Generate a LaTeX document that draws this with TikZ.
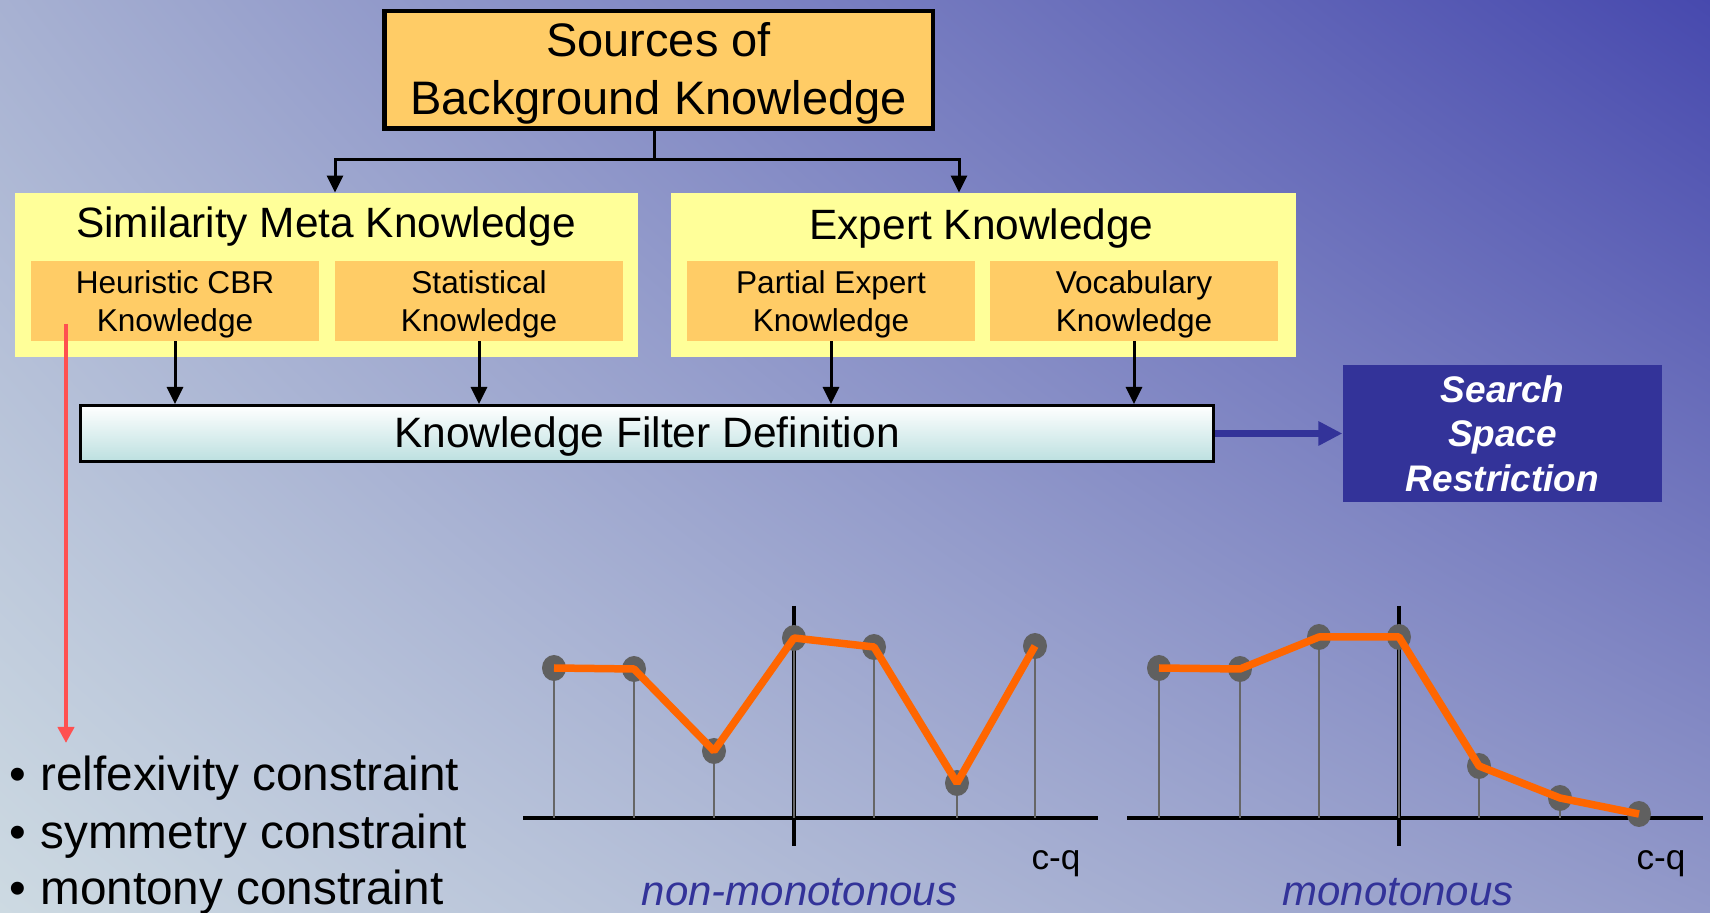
\documentclass[tikz,border=0pt]{standalone}
\usepackage{fontspec}
\setmainfont{Liberation Sans}
\usetikzlibrary{arrows.meta,calc,shadings}
\definecolor{bgUL}{HTML}{A7B1D2}
\definecolor{bgUR}{HTML}{4749AE}
\definecolor{bgLL}{HTML}{CDDAE2}
\definecolor{bgLR}{HTML}{9299C9}
\definecolor{boxor}{HTML}{FFCC66}
\definecolor{boxye}{HTML}{FFFF99}
\definecolor{navy}{HTML}{333399}
\definecolor{redln}{HTML}{FF5050}
\definecolor{orln}{HTML}{FF6600}
\definecolor{dotg}{HTML}{606060}
\definecolor{stemg}{HTML}{666666}
\definecolor{tealb}{HTML}{BCE0E0}
\begin{document}
\begin{tikzpicture}[x=0.5pt,y=-0.5pt,
  topbox/.style={draw=black, line width=2.25pt, fill=boxor, inner sep=0pt,
    minimum width=274.25pt, minimum height=58.75pt, align=center, text depth=1.8pt,
    font=\fontsize{23.5}{29}\selectfont},
  groupbox/.style={fill=boxye, inner sep=0pt, minimum height=82pt},
  subbox/.style={fill=boxor, inner sep=0pt, minimum width=144pt, minimum height=40pt,
    align=center, text depth=0.2pt, font=\fontsize{15.8}{19.2}\selectfont},
  ttl/.style={inner sep=0pt, anchor=base, font=\fontsize{21.2}{25}\selectfont},
  filterbox/.style={draw=black, line width=1.5pt, top color=white, bottom color=tealb,
    inner sep=0pt, minimum width=566.5pt, minimum height=28pt, text depth=1.4pt,
    font=\fontsize{21.25}{25}\selectfont},
  searchbox/.style={fill=navy, inner sep=0pt, minimum width=159.75pt, minimum height=68.5pt,
    align=center, text=white, font=\fontsize{18.5}{22.25}\selectfont\bfseries\itshape},
  conn/.style={line width=1.5pt, black},
  arr/.style={conn, -{Triangle[length=8.5pt,width=8pt]}},
  bigarr/.style={navy, line width=3.5pt, -{Triangle[length=12pt,width=11.5pt]}},
  redarr/.style={redln, line width=2.2pt, -{Triangle[length=8pt,width=8pt]}},
  bul/.style={inner sep=0pt, anchor=base west, font=\fontsize{23.85}{29}\selectfont},
  axisln/.style={black, line width=2pt},
  stem/.style={stemg, line width=1.25pt},
  orline/.style={orln, line width=3.75pt, line join=bevel},
  cq/.style={inner sep=0pt, anchor=base, font=\fontsize{17.6}{21}\selectfont},
  capt/.style={inner sep=0pt, anchor=base, text=navy, font=\fontsize{21}{25}\selectfont\itshape}
]
\useasboundingbox (0,0) rectangle (1710,913);
\shade[lower left=bgLL, upper left=bgUL, upper right=bgUR, lower right=bgLR]
  (0,913) rectangle (1710,0);

% ---------- top part ----------
\node[topbox] (src) at (658.5,70) {Sources of\\Background Knowledge};

\node[groupbox, minimum width=311.5pt] (sim) at (326.5,275) {};
\node[groupbox, minimum width=312.5pt] (exp) at (983.5,275) {};
\node[ttl] (simt) at (326,238) {Similarity Meta Knowledge};
\node[ttl] (expt) at (981.5,240) {Expert Knowledge};

\node[subbox] (heu)  at (175,301)  {Heuristic CBR\\Knowledge};
\node[subbox] (stat) at (479,301)  {Statistical\\Knowledge};
\node[subbox] (part) at (831,301)  {Partial Expert\\Knowledge};
\node[subbox] (voc)  at (1134,301) {Vocabulary\\Knowledge};

\node[filterbox] (filter) at (647,433.5) {Knowledge Filter Definition};
\node[searchbox] (search) at (1502.5,433.5) {Search\\Space\\Restriction};

\coordinate (jtop) at (654,131);
\coordinate (jn) at (654,160);
\draw[conn] (jtop) -- (jn);
\draw[arr] (jn) -| ($(sim.north)+(8.5,0)$);
\draw[arr] (jn) -| ($(exp.north)+(-24.5,0)$);

\foreach \b in {heu,stat,part,voc}
  \draw[arr] (\b.south) -- (\b.south |- filter.north);

\draw[bigarr] (filter.east) -- (search.west);

% ---------- red arrow and bullets ----------
\coordinate (rs) at (66,324);
\coordinate (re) at (66,743);
\draw[redarr] (rs) -- (re);

\node[bul] (b1) at (9,791) {•\hspace{7.15pt}relfexivity constraint};
\node[bul] (b2) at (9,849) {•\hspace{7.15pt}symmetry constraint};
\node[bul] (b3) at (9,905) {•\hspace{7.15pt}montony constraint};

% ---------- left chart ----------
\draw[axisln] (523,818) -- (1098,818);
\draw[axisln] (794,606) -- (794,846);
\foreach \px/\py in {554/668, 634/669, 714/751, 794/638, 874/647, 957/783, 1035/646}{
  \draw[stem] (\px,818) -- (\px,\py);
  \fill[dotg] (\px,\py) ellipse [x radius=6pt, y radius=6.5pt];
}
\draw[orline] (554,668) -- (634,669) -- (714,751) -- (794,638) -- (874,647) -- (957,783) -- (1035,646);
\node[cq] (cql) at (1056,870) {c-q};
\node[capt] (nm) at (799.5,906) {non-monotonous};

% ---------- right chart ----------
\draw[axisln] (1127,818) -- (1703,818);
\draw[axisln] (1399,606) -- (1399,846);
\foreach \px/\py in {1159/668, 1240/669, 1319/637, 1399/637, 1479/766, 1560/798, 1639/814}{
  \draw[stem] (\px,818) -- (\px,\py);
  \fill[dotg] (\px,\py) ellipse [x radius=6pt, y radius=6.5pt];
}
\draw[orline] (1159,668) -- (1240,669) -- (1319,637) -- (1399,637) -- (1479,766) -- (1560,798) -- (1639,814);
\node[cq] (cqr) at (1661,870) {c-q};
\node[capt] (mo) at (1398,906) {monotonous};
\end{tikzpicture}
\end{document}
